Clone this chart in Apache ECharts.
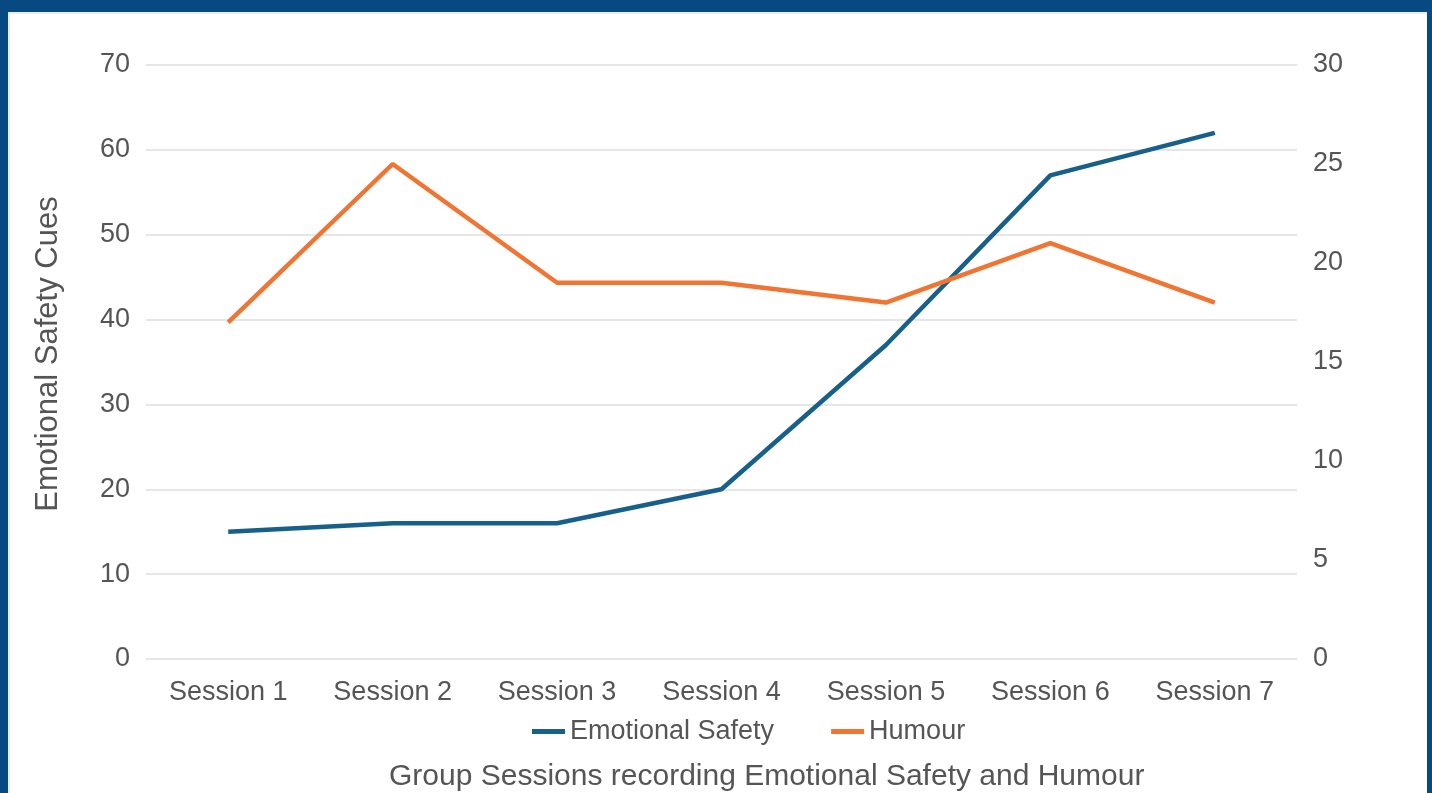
<!DOCTYPE html>
<html>
<head>
<meta charset="utf-8">
<script src="https://cdn.jsdelivr.net/npm/echarts@6/dist/echarts.min.js"></script>
<style>
html,body{margin:0;padding:0;width:1432px;height:793px;overflow:hidden;background:#074a82;}
#panel{position:absolute;left:8px;top:12px;width:1419px;height:781px;background:#fff;box-sizing:border-box;border-left:2px solid #ececec;border-top:2px solid #ececec;}
#chart{position:absolute;left:0;top:0;width:1432px;height:793px;}
</style>
</head>
<body>
<div id="panel"></div>
<div id="chart"></div>
<script>
const categories = ['Session 1','Session 2','Session 3','Session 4','Session 5','Session 6','Session 7'];
const emotionalSafety = [15, 16, 16, 20, 37, 57, 62];
const humour = [17, 25, 19, 19, 18, 21, 18];
const leftTicks = {min: 0, max: 70, interval: 10};
const rightTicks = {min: 0, max: 30, interval: 5};

const textColor = '#555';
const font = 'Liberation Sans, Arial, sans-serif';
const chart = echarts.init(document.getElementById('chart'), null, {renderer: 'canvas'});
chart.setOption({
  backgroundColor: 'transparent',
  animation: false,
  textStyle: {fontFamily: font},
  title: {
    text: 'Group Sessions recording Emotional Safety and Humour',
    left: 389, top: 762, padding: 0,
    textStyle: {color: textColor, fontSize: 30, fontWeight: 'normal', fontFamily: font}
  },
  grid: {left: 146, right: 135, top: 65, bottom: 134, containLabel: false},
  legend: {
    top: 718, left: 532, padding: 0, itemGap: 57, itemWidth: 33, itemHeight: 5,
    icon: 'rect',
    textStyle: {color: textColor, fontSize: 27, fontFamily: font},
    data: ['Emotional Safety', 'Humour']
  },
  xAxis: {
    type: 'category', data: categories, boundaryGap: true,
    axisLine: {show: false}, axisTick: {show: false},
    axisLabel: {color: textColor, fontSize: 27, margin: 20, fontFamily: font}
  },
  yAxis: [{
    type: 'value', position: 'left', min: leftTicks.min, max: leftTicks.max, interval: leftTicks.interval,
    name: 'Emotional Safety Cues', nameLocation: 'middle', nameGap: 82,
    nameTextStyle: {color: textColor, fontSize: 31, fontFamily: font, padding: [0, 0, 0, 16]},
    axisLine: {show: false}, axisTick: {show: false},
    axisLabel: {color: textColor, fontSize: 27, margin: 16, fontFamily: font},
    splitLine: {lineStyle: {color: '#e6e6e6', width: 2}}
  }, {
    type: 'value', position: 'right', min: rightTicks.min, max: rightTicks.max, interval: rightTicks.interval,
    axisLine: {show: false}, axisTick: {show: false},
    axisLabel: {color: textColor, fontSize: 27, margin: 16, fontFamily: font},
    splitLine: {show: false}
  }],
  series: [{
    name: 'Emotional Safety', type: 'line', yAxisIndex: 0, data: emotionalSafety,
    showSymbol: false, symbol: 'none',
    lineStyle: {color: '#17608a', width: 4.5}, itemStyle: {color: '#17608a'}
  }, {
    name: 'Humour', type: 'line', yAxisIndex: 1, data: humour,
    showSymbol: false, symbol: 'none',
    lineStyle: {color: '#f07432', width: 4.5}, itemStyle: {color: '#f07432'}
  }]
});
</script>
</body>
</html>
